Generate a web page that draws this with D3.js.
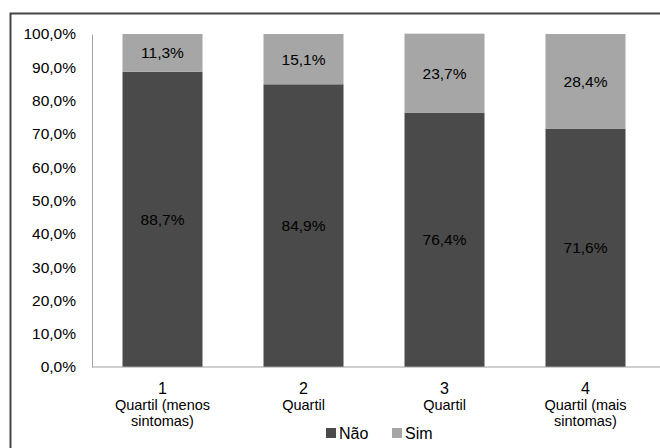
<!DOCTYPE html>
<html>
<head>
<meta charset="utf-8">
<script src="https://cdn.jsdelivr.net/npm/d3@7"></script>
<style>
  html, body { margin: 0; background: #fff; overflow: hidden; }
  svg { display: block; }
  text { font-family: "Liberation Sans", Arial, sans-serif; fill: #000; }
</style>
</head>
<body>
<svg width="660" height="448"></svg>
<script>
// chart data
const categories = ["1", "2", "3", "4"];
const subLabels = [["Quartil (menos", "sintomas)"], ["Quartil"], ["Quartil"], ["Quartil (mais", "sintomas)"]];
const nao = [88.7, 84.9, 76.4, 71.6];
const sim = [11.3, 15.1, 23.7, 28.4];
const yTicks = [0, 10, 20, 30, 40, 50, 60, 70, 80, 90, 100];
const seriesNames = ["Não", "Sim"];
const colors = ["#4a4a4a", "#a6a6a6"];

const svg = d3.select("svg");
const fmt = v => v.toFixed(1).replace(".", ",") + "%";

// outer frame: only top and left edges are inside the picture
svg.append("path")
  .attr("d", "M10.5,448V13.5H660")
  .attr("fill", "none").attr("stroke", "#444").attr("stroke-width", 2);

const x = d3.scaleBand().domain(categories).range([92, 656]).paddingInner(61 / 141).paddingOuter(30.5 / 141);
const y = d3.scaleLinear().domain([0, 100]).range([367, 34]);

// stack rows
const rows = categories.map((c, i) => ({ cat: c, "Não": nao[i], "Sim": sim[i] }));
const stacked = d3.stack().keys(seriesNames)(rows);

stacked.forEach((layer, li) => {
  svg.append("g").selectAll("rect")
    .data(layer)
    .join("rect")
    .attr("x", d => x(d.data.cat))
    .attr("y", d => y(d[1]))
    .attr("width", x.bandwidth())
    .attr("height", d => y(d[0]) - y(d[1]))
    .attr("fill", colors[li]);

  svg.append("g").selectAll("text")
    .data(layer)
    .join("text")
    .attr("x", d => x(d.data.cat) + x.bandwidth() / 2)
    .attr("y", d => y((d[0] + d[1]) / 2))
    .attr("dy", "0.35em")
    .attr("text-anchor", "middle")
    .style("font-size", "15.5px")
    .attr("fill", "#111")
    .text(d => fmt(d.data[layer.key]));
});

// y axis
const yAxis = svg.append("g")
  .attr("transform", "translate(92,0)")
  .call(d3.axisLeft(y).tickValues(yTicks).tickSize(0).tickPadding(16).tickFormat(d => fmt(d)));
yAxis.select(".domain").attr("stroke", "#a0a0a0");
yAxis.selectAll("text").style("font-size", "15.5px").attr("fill", "#000");

// x axis
const xAxis = svg.append("g")
  .attr("transform", "translate(0,367)")
  .call(d3.axisBottom(x).tickSize(0).tickFormat(""));
xAxis.select(".domain").attr("stroke", "#a0a0a0").attr("d", "M92,0H660");

const xl = svg.append("g").selectAll("text")
  .data(categories)
  .join("text")
  .attr("x", d => x(d) + x.bandwidth() / 2)
  .attr("y", 394)
  .attr("text-anchor", "middle")
  .style("font-size", "16px");
xl.append("tspan").attr("x", d => x(d) + x.bandwidth() / 2).text(d => d);
xl.each(function(d, i) {
  subLabels[i].forEach((s, k) => {
    d3.select(this).append("tspan")
      .attr("x", x(d) + x.bandwidth() / 2)
      .attr("dy", 16)
      .style("font-size", "14.5px")
      .text(s);
  });
});

// legend
const legend = svg.append("g").attr("transform", "translate(326,433)");
const itemX = [0, 66];
seriesNames.forEach((n, i) => {
  const g = legend.append("g").attr("transform", `translate(${itemX[i]},0)`);
  g.append("rect").attr("x", 0).attr("y", -5).attr("width", 10).attr("height", 10).attr("fill", colors[i]);
  g.append("text").attr("x", 13).attr("dy", "0.35em").style("font-size", "16px").text(n);
});
</script>
</body>
</html>
